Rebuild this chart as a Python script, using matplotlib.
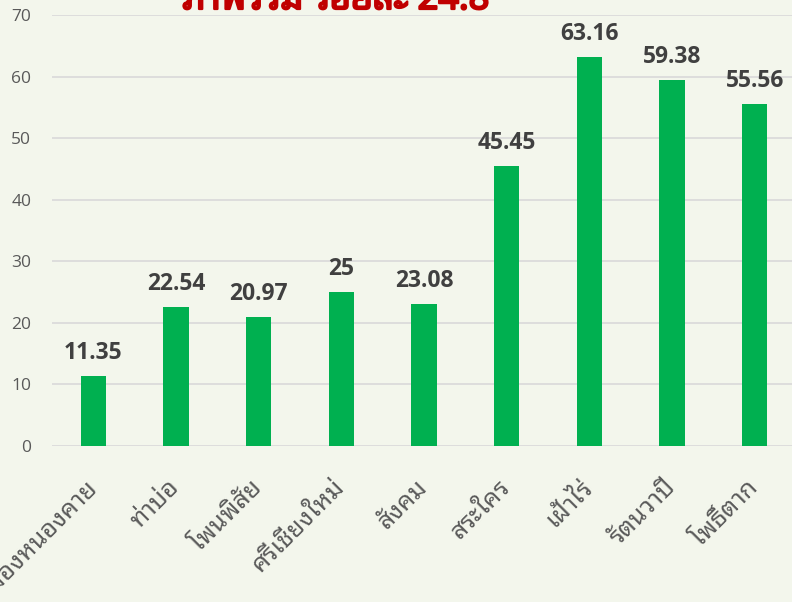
import matplotlib
matplotlib.use('Agg')
import matplotlib.pyplot as plt
import matplotlib.patheffects as pe
import numpy as np

# district names and percentages
districts = ['เมืองหนองคาย', 'ท่าบ่อ', 'โพนพิสัย', 'ศรีเชียงใหม่', 'สังคม',
             'สระใคร', 'เฝ้าไร่', 'รัตนวาปี', 'โพธิ์ตาก']
values = [11.35, 22.54, 20.97, 25, 23.08, 45.45, 63.16, 59.38, 55.56]
value_labels = ['11.35', '22.54', '20.97', '25', '23.08', '45.45', '63.16', '59.38', '55.56']
yticks = [0, 10, 20, 30, 40, 50, 60, 70]
title = 'ภาพรวม ร้อยละ 24.8'

plt.rcParams['font.family'] = ['Noto Sans Thai Looped', 'Noto Sans Thai', 'Noto Sans', 'DejaVu Sans']

bg = '#f3f6ec'
fig = plt.figure(figsize=(7.92, 6.02), dpi=100, facecolor=bg)
ax = fig.add_axes([52 / 792, 1 - 446 / 602, 744 / 792, 431 / 602], facecolor=bg)

x = np.arange(len(districts))
ax.bar(x, values, width=0.31, color='#00b050', zorder=3)

for xi, v, lab in zip(x, values, value_labels):
    ax.annotate(lab, (xi, v), xytext=(0, 8), textcoords='offset points',
                ha='center', va='bottom', fontsize=16.5, fontweight='bold',
                color='#404040', family=['Open Sans', 'DejaVu Sans'])

ax.set_xlim(-0.5, len(districts) - 0.5)
ax.set_ylim(0, 70)
ax.set_yticks(yticks)
ax.set_yticklabels([str(t) for t in yticks], fontsize=12.5, color='#595959',
                   family=['Open Sans', 'DejaVu Sans'])
ax.set_xticks(x)
ax.set_xticklabels(districts, rotation=45, ha='right', va='center',
                   rotation_mode='anchor', fontsize=18, color='#595959')
ax.tick_params(axis='y', length=0, pad=15)
ax.tick_params(axis='x', length=0, pad=27)

ax.grid(axis='y', color='#d9d9d9', linewidth=1.2, zorder=0)
for s in ax.spines.values():
    s.set_visible(False)

# title sits partly above the top edge, as in the original
fig.text(336 / 792, 1 - 9 / 602, title, ha='center', va='baseline',
         fontsize=26, fontweight='bold', color='#c00000',
         path_effects=[pe.withStroke(linewidth=1.6, foreground='#c00000')])

fig.savefig('out.png', dpi=100, facecolor=bg)
